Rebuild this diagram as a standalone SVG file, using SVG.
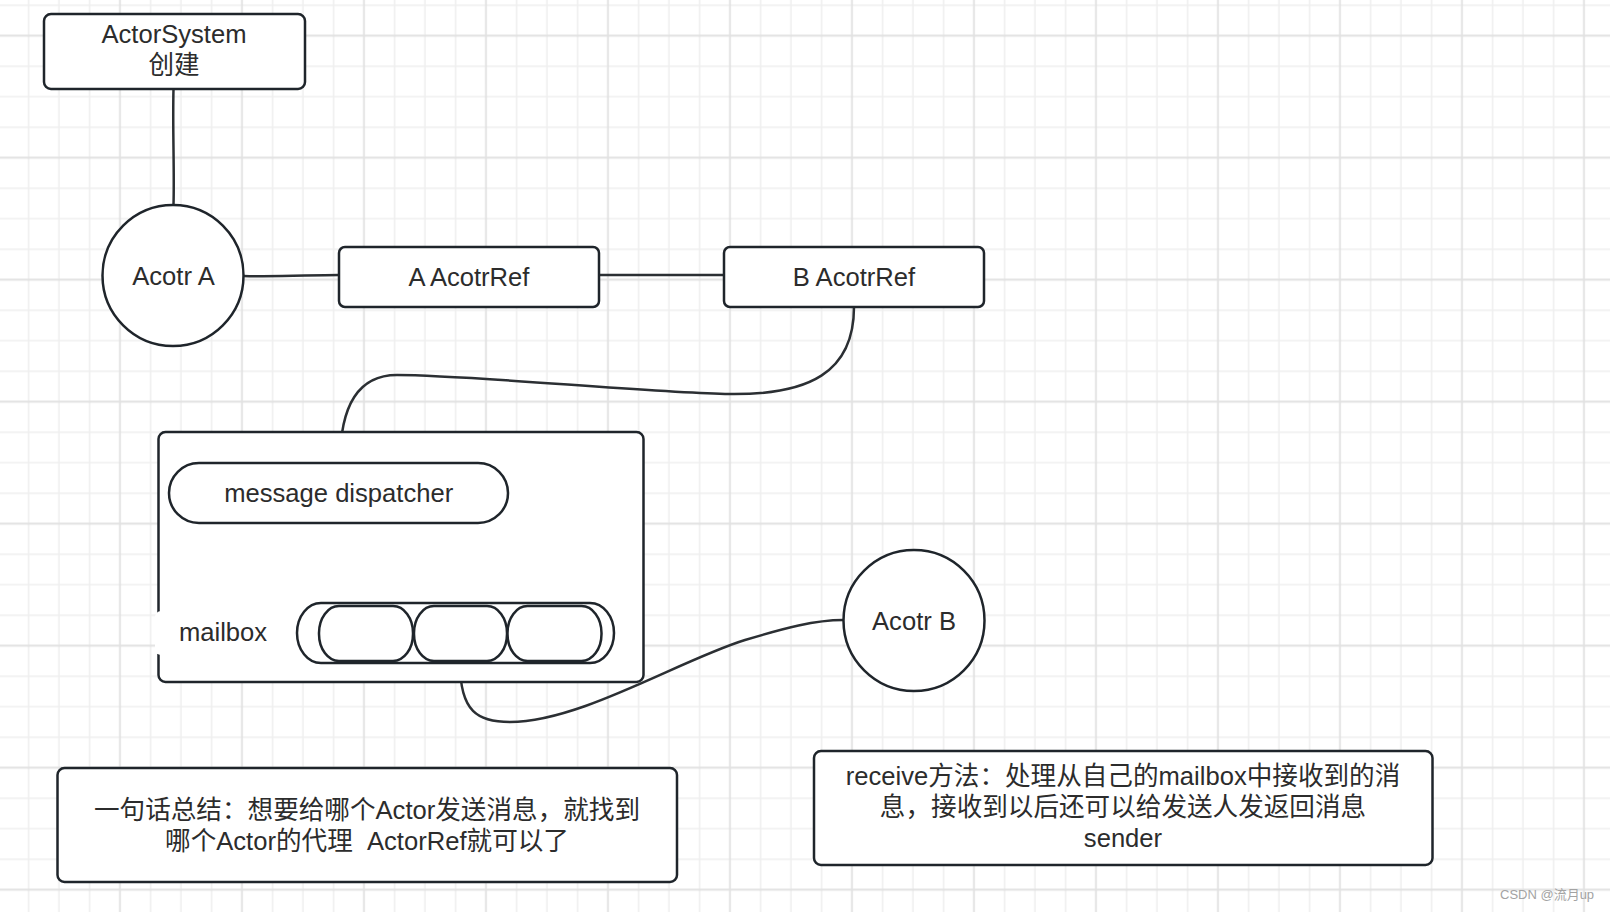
<svg xmlns="http://www.w3.org/2000/svg" width="1610" height="912" viewBox="0 0 1610 912">
<style>
.minor{stroke:#efefef;stroke-width:1.6}
.major{stroke:#e1e1e1;stroke-width:1.8}
.shape{fill:#fff;stroke:#1f252b;stroke-width:2.5}
.conn{fill:none;stroke:#2b2f33;stroke-width:2.5;stroke-linecap:round}
.lbl{font-family:"Liberation Sans","Noto Sans CJK SC",sans-serif;font-size:25.6px;fill:#2c2c2c;text-anchor:middle;dominant-baseline:central;white-space:pre}
.wm{font-family:"Liberation Sans","Noto Sans CJK SC",sans-serif;font-size:13px;fill:#a3a3a3}
</style>
<defs>
<pattern id="grid" patternUnits="userSpaceOnUse" x="104.75" y="20.45" width="122" height="122">
<path class="minor" d="M45.75 0V122M76.25 0V122M106.75 0V122M0 45.75H122M0 76.25H122M0 106.75H122"/>
<path class="major" d="M15.25 0V122M0 15.25H122"/>
</pattern>
</defs>
<rect width="1610" height="912" fill="#fff"/>
<rect width="1610" height="912" fill="url(#grid)"/>

<g id="connectors">
<path class="conn" d="M173.5 89 C172.5 130 174.5 170 173.5 205"/>
<path class="conn" d="M243.5 276 C280 277 310 275 339 275"/>
<path class="conn" d="M599 275 L724 275"/>
<path class="conn" d="M854 307 C854 372 810 396 725 394 C640 392 470 375 397 375 C355 375 340 410 340 463"/>
<path class="conn" d="M340 523 C340 560 367 562 367 603"/>
<path class="conn" d="M460 663 C460 712 478 722 510 722 C580 722 680 660 745 640 C785 628 815 620 843 620"/>
</g>

<g id="actor-system">
<rect class="shape" x="44" y="14" width="261" height="75" rx="7"/>
<text class="lbl" x="174" y="34">ActorSystem</text>
<text class="lbl" x="174" y="65">创建</text>
</g>

<g id="actor-a">
<circle class="shape" cx="173" cy="275.5" r="70.5"/>
<text class="lbl" x="173.5" y="276">Acotr A</text>
</g>

<g id="a-actorref">
<rect class="shape" x="339" y="247" width="260" height="60" rx="6"/>
<text class="lbl" x="469" y="277">A AcotrRef</text>
</g>

<g id="b-actorref">
<rect class="shape" x="724" y="247" width="260" height="60" rx="6"/>
<text class="lbl" x="854" y="277">B AcotrRef</text>
</g>

<g id="container">
<rect class="shape" x="158.5" y="432" width="485" height="250" rx="7"/>
<rect x="155" y="611" width="125" height="44" rx="6" fill="#fff"/>
<text class="lbl" x="223" y="632">mailbox</text>
</g>

<g id="dispatcher">
<rect class="shape" x="169" y="463" width="339" height="60" rx="30"/>
<text class="lbl" x="338.7" y="493">message dispatcher</text>
</g>

<g id="mailbox">
<rect class="shape" x="297" y="603" width="317" height="60" rx="24" ry="30"/>
<rect class="shape" x="319" y="606" width="94" height="55" rx="20" ry="27"/>
<rect class="shape" x="414" y="606" width="93" height="55" rx="20" ry="27"/>
<rect class="shape" x="507.5" y="606" width="94" height="55" rx="20" ry="27"/>
</g>

<g id="actor-b">
<circle class="shape" cx="914" cy="620.5" r="70.5"/>
<text class="lbl" x="914" y="620.5">Acotr B</text>
</g>

<g id="note-summary">
<rect class="shape" x="57.5" y="768" width="619.5" height="114" rx="7"/>
<text class="lbl" x="367" y="809.5">一句话总结：想要给哪个Actor发送消息，就找到</text>
<text class="lbl" x="367" y="841" xml:space="preserve">哪个Actor的代理  ActorRef就可以了</text>
</g>

<g id="note-receive">
<rect class="shape" x="814" y="751" width="618.5" height="114" rx="7"/>
<text class="lbl" x="1123" y="776">receive方法：处理从自己的mailbox中接收到的消</text>
<text class="lbl" x="1123" y="807">息，接收到以后还可以给发送人发返回消息</text>
<text class="lbl" x="1123" y="838">sender</text>
</g>

<text class="wm" x="1500" y="899">CSDN @流月up</text>
</svg>
